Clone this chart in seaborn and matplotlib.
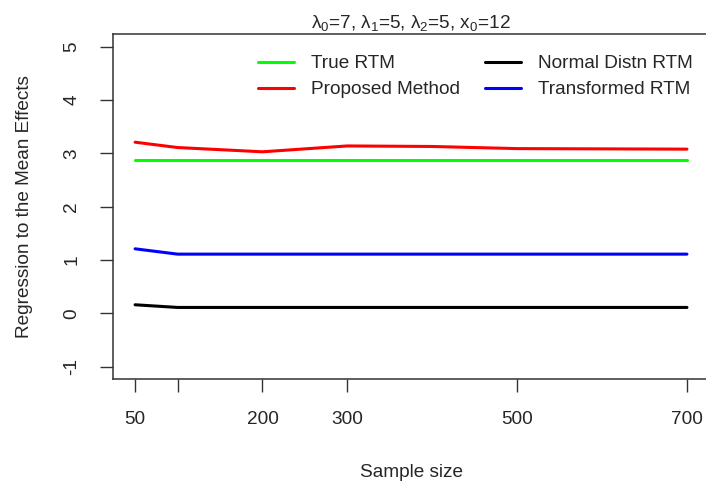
import matplotlib
matplotlib.use("Agg")
import matplotlib.pyplot as plt
import seaborn as sns
import pandas as pd
from matplotlib.lines import Line2D

sample_size = [50, 100, 200, 300, 400, 500, 700]
true_rtm = [2.87, 2.87, 2.87, 2.87, 2.87, 2.87, 2.87]
proposed = [3.21, 3.11, 3.03, 3.14, 3.13, 3.09, 3.08]
normal_rtm = [0.16, 0.11, 0.11, 0.11, 0.11, 0.11, 0.11]
transformed = [1.21, 1.11, 1.11, 1.11, 1.11, 1.11, 1.11]
series_names = ["True RTM", "Proposed Method", "Normal Distn RTM", "Transformed RTM"]
x_ticks = [50, 100, 200, 300, 500, 700]
x_ticklabels = ["50", "", "200", "300", "500", "700"]
y_ticks = [-1, 0, 1, 2, 3, 4, 5]

sns.set_style("white")
plt.rcParams['font.family'] = ['Liberation Sans', 'DejaVu Sans']
plt.rcParams['mathtext.fontset'] = 'custom'
plt.rcParams['mathtext.rm'] = 'Liberation Sans'
plt.rcParams['mathtext.it'] = 'Liberation Sans'

rows = []
for name, vals in zip(series_names, [true_rtm, proposed, normal_rtm, transformed]):
    for x, v in zip(sample_size, vals):
        rows.append({"Sample size": x, "value": v, "series": name})
df = pd.DataFrame(rows)

palette = {"True RTM": "#00ff00", "Proposed Method": "#ff0000",
           "Normal Distn RTM": "#000000", "Transformed RTM": "#0000ff"}

fig = plt.figure(figsize=(7.06, 4.83), dpi=100)
ax = fig.add_axes([0.1601, 0.2145, 0.8442, 0.7151])
sns.lineplot(data=df, x="Sample size", y="value", hue="series", hue_order=series_names,
             palette=palette, linewidth=2.2, ax=ax, legend=False, estimator=None)

ax.set_xlim(24, 726)
ax.set_ylim(-1.24, 5.24)
ax.set_xticks(x_ticks)
ax.set_xticklabels(x_ticklabels)
ax.set_yticks(y_ticks)
ax.set_yticklabels([str(v) for v in y_ticks], rotation=90, va='center')
fs = 13.7
ax.tick_params(axis='both', direction='out', length=9.5, width=1, color='#333333',
               labelsize=fs, bottom=True, left=True)
ax.tick_params(axis='x', pad=13, bottom=True)
ax.tick_params(axis='y', pad=14, left=True)
for s in ax.spines.values():
    s.set_visible(True)
    s.set_color('#333333')
    s.set_linewidth(1.1)

ax.set_xlabel("Sample size", fontsize=fs, labelpad=26)
ax.set_ylabel("Regression to the Mean Effects", fontsize=fs, labelpad=22)
ax.set_title(r"$\lambda_0$=7, $\lambda_1$=5, $\lambda_2$=5, x$_0$=12", fontsize=fs, pad=4)

handles = [Line2D([0], [0], color=palette[n], lw=2.2) for n in series_names]
ax.legend(handles, series_names, ncol=2, frameon=False, fontsize=fs,
          loc='upper left', bbox_to_anchor=(258 / 706, 1 - 55 / 483),
          bbox_transform=fig.transFigure, borderpad=0, borderaxespad=0,
          handlelength=1.9, handletextpad=0.9, columnspacing=1.3, labelspacing=0.45)

fig.savefig("out.png", dpi=100)
